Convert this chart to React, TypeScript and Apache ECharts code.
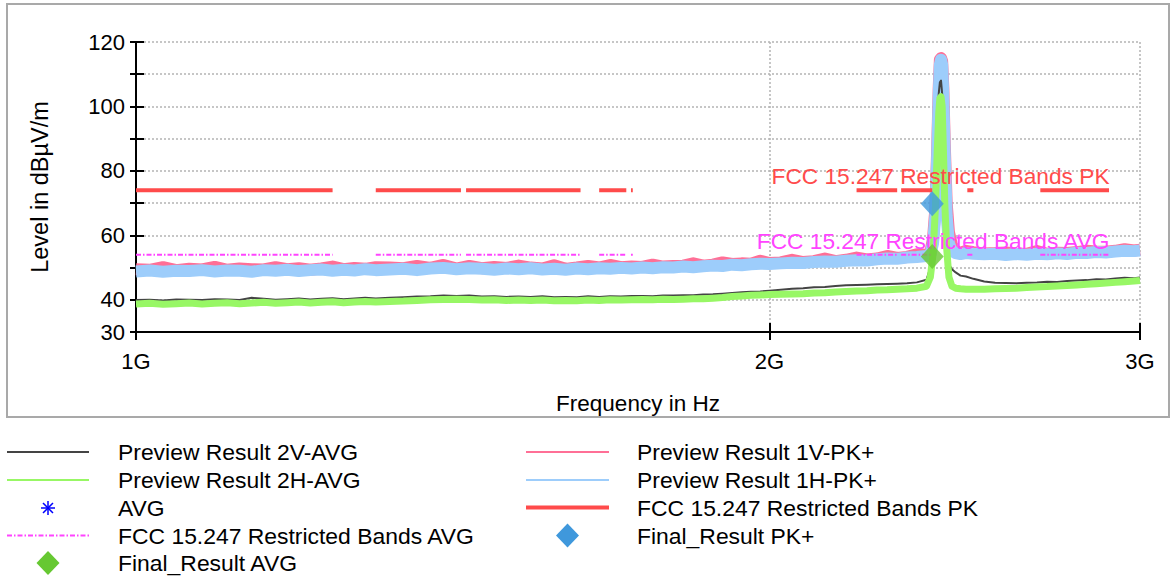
import React, { useEffect, useRef } from 'react';
import * as echarts from 'echarts';

const FONT = "'Liberation Sans', Arial, Helvetica, sans-serif";

// Frequencies in MHz (shared by the four preview traces)
const freqMHz = [
  1000, 1015, 1030, 1045, 1060, 1075, 1090, 1105, 1120, 1135, 1150, 1165, 1180, 1195, 1210, 1225, 1240, 1255, 1270, 1285, 1300,
  1320, 1340, 1360, 1380, 1400, 1420, 1440, 1460, 1480, 1500, 1520, 1540, 1560, 1580, 1600, 1620, 1640, 1660, 1680, 1700,
  1720, 1740, 1760, 1780, 1800, 1820, 1840, 1860, 1880, 1900, 1920, 1940, 1960, 1980, 2000,
  2025, 2050, 2075, 2100, 2125, 2150, 2175, 2200, 2225, 2250, 2275, 2300, 2325, 2350, 2375,
  2385, 2392, 2398, 2403, 2407, 2410, 2413, 2416, 2419, 2423, 2428, 2434, 2442, 2452, 2465, 2480, 2500,
  2530, 2560, 2590, 2620, 2650, 2680, 2710, 2740, 2770, 2800, 2830, 2860, 2890, 2920, 2950, 2980, 3000,
];

// Preview Result 1V-PK+ (dBµV/m)
const preview1VPK = [
  49.5, 49.3, 50.1, 49.2, 49.6, 49.4, 50.2, 49.3, 49.7, 49.5, 49.4, 50.1, 49.5, 49.8, 49.3, 49.7, 50.3, 49.5, 49.9, 49.6, 50.1,
  50.0, 49.8, 50.5, 49.9, 50.8, 49.7, 50.5, 49.8, 50.2, 49.9, 50.6, 50.0, 49.7, 50.7, 49.6, 50.0, 50.5, 50.0, 50.8, 50.1,
  50.3, 50.2, 50.9, 50.3, 50.5, 50.6, 51.3, 50.6, 50.9, 51.6, 51.1, 51.3, 51.2, 52.1, 51.4,
  51.6, 52.4, 51.7, 52.0, 52.8, 52.0, 52.4, 53.1, 52.5, 52.8, 53.6, 53.0, 53.3, 54.1, 54.0,
  54.6, 59, 68, 87, 106, 114.5, 115, 114, 106, 88, 70, 61, 57, 55, 54.6, 55.2, 54.8,
  54.4, 54.5, 54.7, 54.4, 54.3, 55.1, 54.3, 54.6, 54.5, 54.8, 55.2, 55.0, 54.9, 55.2, 55.7, 55.3, 55.5,
];

// Preview Result 1H-PK+
const preview1HPK = [
  48.8, 49.1, 48.7, 49.0, 48.9, 49.2, 48.8, 49.1, 49.0, 48.7, 49.2, 49.0, 49.3, 48.9, 49.2, 49.4, 49.0, 49.3, 49.1, 49.5, 49.2,
  49.4, 49.6, 49.2, 49.7, 49.9, 49.5, 49.8, 49.6, 49.3, 49.7, 49.5, 49.8, 49.4, 49.6, 49.3, 49.7, 49.5, 49.8, 49.6, 49.9,
  49.7, 50.0, 49.8, 50.1, 50.0, 50.3, 50.1, 50.4, 50.6, 50.5, 50.9, 50.7, 51.0, 51.2, 51.1,
  51.3, 51.5, 51.4, 51.7, 51.9, 51.8, 52.1, 52.3, 52.2, 52.6, 52.8, 52.7, 53.1, 53.3, 53.6,
  54.0, 57.5, 66, 85, 104, 113, 114.5, 113, 104, 85, 66, 57.5, 55.2, 54.5, 54.2, 54.5, 54.3,
  54.1, 54.3, 53.9, 54.2, 54.0, 54.3, 54.1, 54.4, 54.2, 54.6, 54.5, 54.8, 54.7, 55.0, 55.2, 55.1, 55.3,
];

// Preview Result 2V-AVG
const preview2VAVG = [
  39.9, 40.0, 39.8, 40.1, 40.0, 39.9, 40.2, 40.1, 39.9, 40.6, 40.3, 40.0, 40.2, 40.4, 40.1, 40.3, 40.5, 40.2, 40.4, 40.6, 40.4,
  40.6, 40.8, 41.0, 41.1, 41.3, 41.2, 41.3, 41.0, 41.1, 40.9, 41.0, 40.9, 41.1, 40.8, 40.9, 40.8, 41.1, 40.9, 41.1, 41.0,
  41.2, 41.2, 41.1, 41.3, 41.3, 41.4, 41.4, 41.6, 41.7, 41.9, 42.1, 42.3, 42.5, 42.6, 42.8,
  43.1, 43.4, 43.6, 43.9, 44.0, 44.3, 44.5, 44.6, 44.7, 44.8, 44.9, 45.0, 45.1, 45.4, 46.2,
  50, 58, 72, 92, 104, 107.5, 108, 104, 88, 70, 55, 51, 49.5, 48.5, 47.5, 47.2, 46.5,
  45.7, 45.3, 45.2, 45.1, 45.3, 45.4, 45.6, 45.5, 45.8, 46.0, 46.1, 46.4, 46.3, 46.6, 46.8, 46.7, 46.9,
];

// Preview Result 2H-AVG
const preview2HAVG = [
  38.7, 38.9, 38.6, 38.8, 39.0, 38.7, 38.9, 39.1, 38.8, 39.0, 39.2, 38.9, 39.1, 39.3, 39.0, 39.2, 39.4, 39.1, 39.3, 39.5, 39.3,
  39.5, 39.6, 39.8, 40.0, 40.1, 40.2, 40.1, 39.9, 40.0, 39.8, 39.9, 39.8, 39.9, 39.7, 39.8, 39.7, 39.9, 39.8, 40.0, 39.9,
  40.0, 40.1, 40.0, 40.2, 40.1, 40.2, 40.3, 40.3, 40.5, 40.7, 41.0, 41.2, 41.4, 41.5, 41.6,
  41.7, 41.8, 41.9, 42.1, 42.2, 42.4, 42.6, 42.7, 42.8, 43.0, 43.1, 43.3, 43.4, 43.6, 44.2,
  47, 54, 68, 86, 98, 102.5, 103, 100, 88, 70, 56, 47, 44.2, 43.6, 43.4, 43.3, 43.3,
  43.3, 43.4, 43.5, 43.6, 43.8, 44.0, 44.1, 44.3, 44.4, 44.6, 44.8, 45.0, 45.2, 45.4, 45.6, 45.8, 46.0,
];

// FCC 15.205 restricted bands (MHz) and limits
const restrictedBandsMHz: [number, number][] = [
  [1000, 1240], [1300, 1427], [1435, 1626.5], [1645.5, 1646.5], [1660, 1710], [1718.8, 1722.2],
  [2200, 2300], [2310, 2390], [2483.5, 2500], [2690, 2900],
];
const limitPK = 74;
const limitAVG = 54;

// Final results [MHz, dBµV/m]
const finalPK = [[2390, 69.8]];
const finalAVG = [[2390, 53.4]];

const xTicksMHz = [1000, 2000, 3000];
const yLabelValues = [30, 40, 60, 80, 100, 120];

const legendLeft = [
  'Preview Result 2V-AVG',
  'Preview Result 2H-AVG',
  'AVG',
  'FCC 15.247 Restricted Bands AVG',
  'Final_Result AVG',
];
const legendRight = [
  'Preview Result 1V-PK+',
  'Preview Result 1H-PK+',
  'FCC 15.247 Restricted Bands PK',
  'Final_Result PK+',
];

const C_PINK = '#ff6f96';
const C_BLUE = '#9dcdfb';
const C_GRAY = '#444444';
const C_GREEN = '#98f765';
const C_RED = '#ff4b4b';
const C_MAG = '#ff44ff';
const C_DPK = '#3f98dc';
const C_DAVG = '#66c832';
const DASHDOT = [5, 2, 1.5, 2];

export default function App() {
  const ref = useRef<HTMLDivElement>(null);

  useEffect(() => {
    if (!ref.current) return;
    const chart = echarts.init(ref.current, undefined, { renderer: 'svg' });

    const toPairs = (vals: number[]) => freqMHz.map((f, i) => [f, vals[i]]);
    const bandData = (level: number) => {
      const out: any[] = [];
      restrictedBandsMHz.forEach(([s, e]) => {
        out.push([s, level], [e, level], [e, null]);
      });
      return out;
    };

    const axisFont = { fontFamily: FONT, fontSize: 22, color: '#000' };
    const blackLine = { color: '#000', width: 2 };
    const gridLine = { color: '#b4b4b4', width: 1.5, type: [2, 2] as any };

    const traceLine = (name: string, vals: number[], color: string, width: number) => ({
      name,
      type: 'line',
      data: toPairs(vals),
      showSymbol: false,
      symbol: 'none',
      silent: true,
      lineStyle: { color, width, join: 'round' },
      itemStyle: { color },
    });

    const limitLabel = (text: string, color: string, level: number) => ({
      symbol: 'circle',
      symbolSize: 1,
      silent: true,
      itemStyle: { color: 'rgba(0,0,0,0)' },
      label: {
        show: true,
        position: 'left',
        distance: 0,
        offset: [1, -14],
        formatter: text,
        color,
        fontFamily: FONT,
        fontSize: 22.7,
      },
      data: [{ coord: [restrictedBandsMHz[restrictedBandsMHz.length - 1][1], level] }],
    });

    const rows = [452, 480, 508, 535.5, 563];
    const legendEls: any[] = [];
    const addText = (x: number, y: number, text: string) =>
      legendEls.push({
        type: 'text',
        x,
        y,
        style: { text, fill: '#000', fontFamily: FONT, fontSize: 22.9, align: 'left', verticalAlign: 'middle' },
      });
    const addLine = (x1: number, x2: number, y: number, stroke: string, w: number, dash?: number[]) =>
      legendEls.push({
        type: 'line',
        shape: { x1, y1: y, x2, y2: y },
        style: { stroke, lineWidth: w, lineDash: dash },
      });
    const addDiamond = (cx: number, cy: number, fill: string) =>
      legendEls.push({
        type: 'polygon',
        shape: { points: [[cx - 11.5, cy], [cx, cy - 12], [cx + 11.5, cy], [cx, cy + 12]] },
        style: { fill },
      });

    // left column
    addLine(7, 89, rows[0], C_GRAY, 2);
    addLine(7, 89, rows[1], C_GREEN, 2);
    const ax = 48, ay = rows[2];
    [[0, -7, 0, 7], [-7, 0, 7, 0], [-5, -5, 5, 5], [5, -5, -5, 5]].forEach(([a, b, c, d]) =>
      legendEls.push({
        type: 'line',
        shape: { x1: ax + a, y1: ay + b, x2: ax + c, y2: ay + d },
        style: { stroke: '#0000ff', lineWidth: 1.5 },
      })
    );
    addLine(7, 89, rows[3], C_MAG, 2, DASHDOT);
    addDiamond(48, rows[4], C_DAVG);
    legendLeft.forEach((t, i) => addText(118, rows[i], t));

    // right column
    addLine(526, 609, rows[0], C_PINK, 2);
    addLine(526, 609, rows[1], C_BLUE, 2);
    addLine(526, 609, rows[2] - 0.5, C_RED, 4);
    addDiamond(567.5, rows[3], C_DPK);
    legendRight.forEach((t, i) => addText(637, rows[i], t));

    const option: any = {
      animation: false,
      backgroundColor: '#ffffff',
      grid: [
        { left: 136, top: 42, width: 1004, height: 290 },
        { left: 136, top: 42, width: 1004, height: 290 },
      ],
      xAxis: [
        {
          type: 'log',
          gridIndex: 0,
          logBase: 10,
          min: 1000,
          max: 3000,
          name: 'Frequency in Hz',
          nameLocation: 'middle',
          nameGap: 60,
          nameTextStyle: { ...axisFont, fontSize: 22.5 },
          axisLine: { show: true, onZero: false, lineStyle: blackLine },
          axisTick: { show: true, inside: false, length: 8, customValues: xTicksMHz, lineStyle: blackLine },
          axisLabel: {
            show: true,
            margin: 18,
            customValues: xTicksMHz,
            formatter: (v: number) => `${Math.round(Number(v) / 1000)}G`,
            ...axisFont,
          },
          splitLine: { show: true, lineStyle: gridLine },
        },
        {
          type: 'log',
          gridIndex: 1,
          logBase: 10,
          min: 1000,
          max: 3000,
          axisLine: { show: false },
          axisTick: { show: true, inside: true, length: 9, customValues: xTicksMHz, lineStyle: blackLine },
          axisLabel: { show: false },
          splitLine: { show: false },
        },
      ],
      yAxis: [
        {
          type: 'value',
          gridIndex: 0,
          min: 30,
          max: 120,
          interval: 10,
          name: 'Level in dBµV/m',
          nameLocation: 'middle',
          nameGap: 84,
          nameTextStyle: { ...axisFont, fontSize: 23.5 },
          axisLine: { show: true, onZero: false, lineStyle: blackLine },
          axisTick: { show: true, length: 6, lineStyle: blackLine },
          axisLabel: {
            margin: 11,
            formatter: (v: number) => (yLabelValues.includes(Number(v)) ? String(v) : ''),
            ...axisFont,
          },
          splitLine: { show: true, lineStyle: gridLine },
        },
        {
          type: 'value',
          gridIndex: 1,
          min: 30,
          max: 120,
          interval: 10,
          axisLine: { show: false },
          axisTick: { show: true, inside: true, length: 8, lineStyle: blackLine },
          axisLabel: { show: false },
          splitLine: { show: false },
        },
      ],
      series: [
        traceLine('Preview Result 1V-PK+', preview1VPK, C_PINK, 12),
        traceLine('Preview Result 1H-PK+', preview1HPK, C_BLUE, 12),
        traceLine('Preview Result 2V-AVG', preview2VAVG, C_GRAY, 2),
        traceLine('Preview Result 2H-AVG', preview2HAVG, C_GREEN, 7),
        {
          name: 'FCC 15.247 Restricted Bands AVG',
          type: 'line',
          data: bandData(limitAVG),
          showSymbol: false,
          symbol: 'none',
          connectNulls: false,
          silent: true,
          lineStyle: { color: C_MAG, width: 2, type: DASHDOT },
          itemStyle: { color: C_MAG },
          markPoint: limitLabel('FCC 15.247 Restricted Bands AVG', C_MAG, limitAVG),
        },
        {
          name: 'FCC 15.247 Restricted Bands PK',
          type: 'line',
          data: bandData(limitPK),
          showSymbol: false,
          symbol: 'none',
          connectNulls: false,
          silent: true,
          lineStyle: { color: C_RED, width: 4 },
          itemStyle: { color: C_RED },
          markPoint: limitLabel('FCC 15.247 Restricted Bands PK', C_RED, limitPK),
        },
        { name: 'AVG', type: 'scatter', data: [], symbol: 'circle', itemStyle: { color: '#0000ff' } },
        {
          name: 'Final_Result AVG',
          type: 'scatter',
          data: finalAVG,
          symbol: 'diamond',
          symbolSize: [23, 25],
          silent: true,
          itemStyle: { color: C_DAVG },
          z: 5,
        },
        {
          name: 'Final_Result PK+',
          type: 'scatter',
          data: finalPK,
          symbol: 'diamond',
          symbolSize: [23, 25],
          silent: true,
          itemStyle: { color: C_DPK },
          z: 5,
        },
      ],
      graphic: {
        elements: [
          {
            type: 'rect',
            shape: { x: 7, y: 4, width: 1162, height: 413 },
            style: { fill: 'none', stroke: '#a9a9a9', lineWidth: 2 },
            silent: true,
          },
          ...legendEls,
        ],
      },
    };

    chart.setOption(option);
    return () => chart.dispose();
  }, []);

  return (
    <div
      ref={ref}
      style={{ position: 'fixed', left: 0, top: 0, width: 1175, height: 577, background: '#fff' }}
    />
  );
}
